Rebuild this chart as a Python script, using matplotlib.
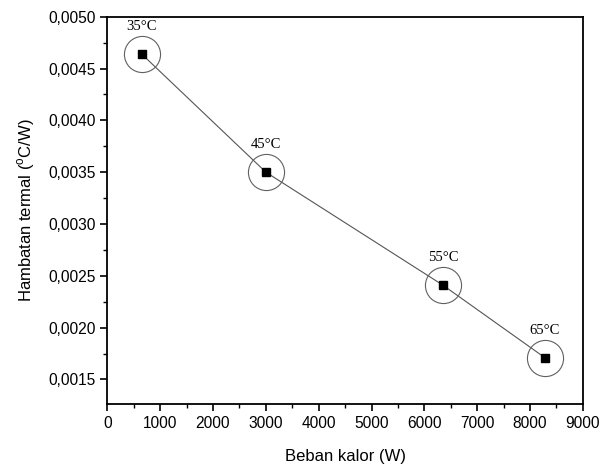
import matplotlib
matplotlib.use('agg')
import matplotlib.pyplot as plt
from matplotlib.ticker import MultipleLocator, FuncFormatter

# data
beban = [650, 3000, 6350, 8280]
hambatan = [0.00464, 0.00350, 0.00241, 0.00171]
suhu_labels = ['35°C', '45°C', '55°C', '65°C']

plt.rcParams['font.family'] = ['Liberation Sans', 'DejaVu Sans']
plt.rcParams['mathtext.fontset'] = 'custom'
plt.rcParams['mathtext.rm'] = 'Liberation Sans'

fig = plt.figure(figsize=(6.11, 4.66), dpi=100)
ax = fig.add_axes([0.1756, 0.1324, 0.7784, 0.8318])

ax.plot(beban, hambatan, color='#555555', lw=0.8, zorder=2)
ax.plot(beban, hambatan, ls='none', marker='s', ms=6.2, color='black', zorder=3)
# lingkaran penanda
ax.plot(beban, hambatan, ls='none', marker='o', ms=26, mfc='none',
        mec='#606060', mew=0.8, zorder=3)

for x, y, lab in zip(beban, hambatan, suhu_labels):
    ax.annotate(lab, (x, y), xytext=(0, 15), textcoords='offset points',
                ha='center', va='bottom', fontsize=10.5,
                family=['Liberation Serif', 'DejaVu Serif'])

ax.set_xlim(0, 9000)
ax.set_ylim(0.00126, 0.0050)
ax.xaxis.set_major_locator(MultipleLocator(1000))
ax.xaxis.set_minor_locator(MultipleLocator(500))
ax.yaxis.set_major_locator(MultipleLocator(0.0005))
ax.yaxis.set_minor_locator(MultipleLocator(0.00025))
ax.yaxis.set_major_formatter(FuncFormatter(lambda v, p: f'{v:.4f}'.replace('.', ',')))

ax.tick_params(which='major', direction='out', length=5, width=1.2, labelsize=11.2)
ax.tick_params(which='minor', direction='out', length=3, width=1.0)
ax.tick_params(top=False, right=False)
for s in ax.spines.values():
    s.set_linewidth(1.3)

ax.set_xlabel('Beban kalor (W)', fontsize=12, labelpad=13)
ax.set_ylabel(r'Hambatan termal ($^{\mathrm{o}}$C/W)', fontsize=12, labelpad=8)

fig.savefig('out.png', dpi=100)
plt.close()
